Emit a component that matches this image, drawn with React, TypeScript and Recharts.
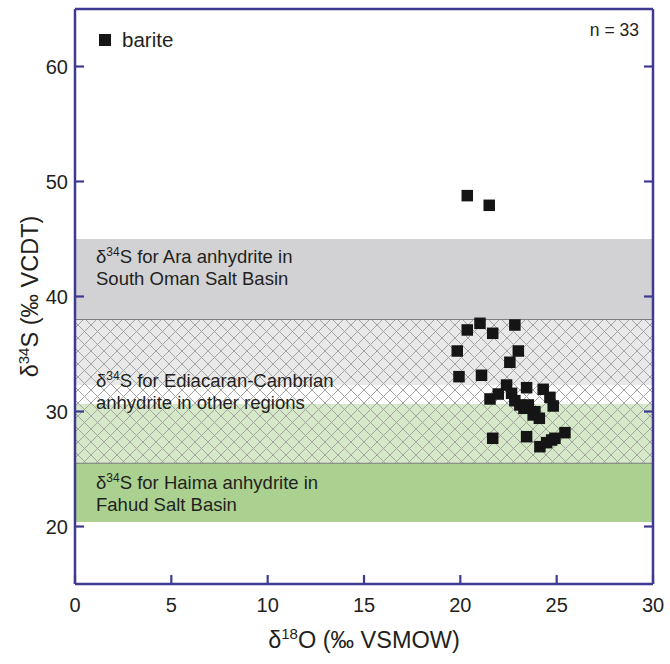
import React from "react";
import { ReferenceArea, ReferenceLine, Scatter, ScatterChart, XAxis, YAxis } from "recharts";

// barite δ18O (‰ VSMOW) / δ34S (‰ VCDT), n = 33
const d18O = [
  20.36, 21.5, 20.36, 21.02, 21.68, 22.83, 19.84, 23.01, 22.57, 19.93, 21.1,
  22.4, 22.66, 23.44, 24.3, 21.54, 21.97, 22.83, 23.09, 23.3, 23.53, 23.87,
  23.78, 24.1, 24.65, 24.82, 21.68, 23.44, 24.13, 24.48, 24.74, 24.91, 25.43,
];
const d34S = [
  48.77, 47.93, 37.09, 37.67, 36.8, 37.52, 35.26, 35.26, 34.28, 33.03, 33.15,
  32.3, 31.58, 32.07, 31.93, 31.09, 31.52, 30.94, 30.57, 30.28, 30.57, 29.98,
  29.7, 29.41, 31.23, 30.48, 27.67, 27.81, 26.94, 27.29, 27.52, 27.67, 28.16,
];

const xTicks = [0, 5, 10, 15, 20, 25, 30];
const yTicks = [20, 30, 40, 50, 60];

// δ34S ranges of the anhydrite fields
const araRange = [32.3, 45];
const haimaRange = [20.4, 30.65];
const ediacaranRange = [25.5, 38];

const points = d18O.map((x, i) => ({ x, y: d34S[i] }));

const AXIS = "#3d3a8f";
const TEXT = "#231f20";
const FONT = "'Liberation Sans', Arial, sans-serif";
const TICK = 9;

function BottomTick(p: any) {
  return (
    <g>
      <line x1={p.x} y1={p.y} x2={p.x} y2={p.y - TICK} stroke={AXIS} strokeWidth={2.2} />
      <text x={p.x} y={p.y + 28} textAnchor="middle" fontSize={20} fontFamily={FONT} fill={TEXT}>
        {p.payload.value}
      </text>
    </g>
  );
}

function LeftTick(p: any) {
  return (
    <g>
      <line x1={p.x} y1={p.y} x2={p.x + TICK} y2={p.y} stroke={AXIS} strokeWidth={2.2} />
      <text x={p.x - 7} y={p.y + 7} textAnchor="end" fontSize={20} fontFamily={FONT} fill={TEXT}>
        {p.payload.value}
      </text>
    </g>
  );
}

function TopTick(p: any) {
  return <line x1={p.x} y1={p.y} x2={p.x} y2={p.y + TICK} stroke={AXIS} strokeWidth={2.2} />;
}

function RightTick(p: any) {
  return <line x1={p.x} y1={p.y} x2={p.x - TICK} y2={p.y} stroke={AXIS} strokeWidth={2.2} />;
}

function BandText({ viewBox, lines, dy }: any) {
  if (!viewBox) return null;
  const x = viewBox.x + 21;
  const y = viewBox.y + dy;
  return (
    <text x={x} y={y} fontSize={18.5} fontFamily={FONT} fill={TEXT}>
      <tspan>δ</tspan>
      <tspan dy={-7} fontSize={12}>34</tspan>
      <tspan dy={7}>S {lines[0]}</tspan>
      <tspan x={x} dy={22}>{lines[1]}</tspan>
    </text>
  );
}

function XTitle({ viewBox }: any) {
  if (!viewBox) return null;
  const cx = viewBox.x + viewBox.width / 2;
  return (
    <text x={cx} y={viewBox.y + 64} textAnchor="middle" fontSize={23.5} fontFamily={FONT} fill={TEXT}>
      <tspan>δ</tspan>
      <tspan dy={-9} fontSize={15}>18</tspan>
      <tspan dy={9}>O (‰ VSMOW)</tspan>
    </text>
  );
}

function YTitle({ viewBox }: any) {
  if (!viewBox) return null;
  const cy = viewBox.y + viewBox.height / 2;
  const cx = 38;
  return (
    <text
      x={cx}
      y={cy}
      transform={`rotate(-90 ${cx} ${cy})`}
      textAnchor="middle"
      fontSize={23.5}
      fontFamily={FONT}
      fill={TEXT}
    >
      <tspan>δ</tspan>
      <tspan dy={-9} fontSize={15}>34</tspan>
      <tspan dy={9}>S (‰ VCDT)</tspan>
    </text>
  );
}

function Square(p: any) {
  const s = 11.5;
  return <rect x={p.cx - s / 2} y={p.cy - s / 2} width={s} height={s} fill="#151515" />;
}

export default function App() {
  return (
    <div style={{ position: "absolute", left: 0, top: 0, width: 670, height: 664, background: "#fff" }}>
      <ScatterChart width={670} height={664} margin={{ top: 8, right: 16, bottom: 0, left: 0 }}>
        <defs>
          <pattern id="crosshatch" width={13} height={13} patternUnits="userSpaceOnUse">
            <rect width={13} height={13} fill="#ffffff" fillOpacity={0.5} />
            <path d="M0,0 L13,13 M13,0 L0,13" stroke="#a3a3a3" strokeWidth={1} />
          </pattern>
        </defs>
        <XAxis
          type="number"
          dataKey="x"
          domain={[0, 30]}
          ticks={xTicks}
          interval={0}
          allowDataOverflow
          height={80}
          tickSize={0}
          tickMargin={0}
          tickLine={false}
          axisLine={{ stroke: AXIS, strokeWidth: 2.5 }}
          tick={BottomTick}
          label={{ content: XTitle }}
        />
        <XAxis
          xAxisId="top"
          orientation="top"
          type="number"
          domain={[0, 30]}
          ticks={xTicks}
          interval={0}
          allowDataOverflow
          height={1}
          tickSize={0}
          tickMargin={0}
          tickLine={false}
          axisLine={{ stroke: AXIS, strokeWidth: 2.5 }}
          tick={TopTick}
        />
        <YAxis
          type="number"
          dataKey="y"
          domain={[15, 65]}
          ticks={yTicks}
          interval={0}
          allowDataOverflow
          width={75}
          tickSize={0}
          tickMargin={0}
          tickLine={false}
          axisLine={{ stroke: AXIS, strokeWidth: 2.5 }}
          tick={LeftTick}
          label={{ content: YTitle }}
        />
        <YAxis
          yAxisId="right"
          orientation="right"
          type="number"
          domain={[15, 65]}
          ticks={yTicks}
          interval={0}
          allowDataOverflow
          width={1}
          tickSize={0}
          tickMargin={0}
          tickLine={false}
          axisLine={{ stroke: AXIS, strokeWidth: 2.5 }}
          tick={RightTick}
        />

        <ReferenceArea
          y1={araRange[0]}
          y2={araRange[1]}
          fill="#d2d2d4"
          fillOpacity={1}
          stroke="none"
          label={{
            content: (p: any) => (
              <BandText viewBox={p.viewBox} dy={24} lines={["for Ara anhydrite in", "South Oman Salt Basin"]} />
            ),
          }}
        />
        <ReferenceArea
          y1={haimaRange[0]}
          y2={haimaRange[1]}
          fill="#aad190"
          fillOpacity={1}
          stroke="none"
          label={{
            content: (p: any) => (
              <BandText viewBox={p.viewBox} dy={85} lines={["for Haima anhydrite in", "Fahud Salt Basin"]} />
            ),
          }}
        />
        <ReferenceArea
          y1={ediacaranRange[0]}
          y2={ediacaranRange[1]}
          fill="url(#crosshatch)"
          fillOpacity={1}
          stroke="none"
          label={{
            content: (p: any) => (
              <BandText
                viewBox={p.viewBox}
                dy={67}
                lines={["for Ediacaran-Cambrian", "anhydrite in other regions"]}
              />
            ),
          }}
        />
        <ReferenceLine y={ediacaranRange[0]} stroke="#7d7d7d" strokeWidth={1.2} />
        <ReferenceLine y={ediacaranRange[1]} stroke="#7d7d7d" strokeWidth={1.2} />

        <Scatter data={points} shape={Square} isAnimationActive={false} />
      </ScatterChart>

      <div
        style={{
          position: "absolute",
          left: 99,
          top: 28,
          display: "flex",
          alignItems: "center",
          fontFamily: FONT,
          fontSize: 20.5,
          color: TEXT,
        }}
      >
        <span style={{ display: "inline-block", width: 12, height: 12, background: "#151515", marginRight: 11 }} />
        <span>barite</span>
      </div>
      <div
        style={{
          position: "absolute",
          right: 31,
          top: 20,
          fontFamily: FONT,
          fontSize: 17.5,
          color: TEXT,
        }}
      >
        n = 33
      </div>
    </div>
  );
}
